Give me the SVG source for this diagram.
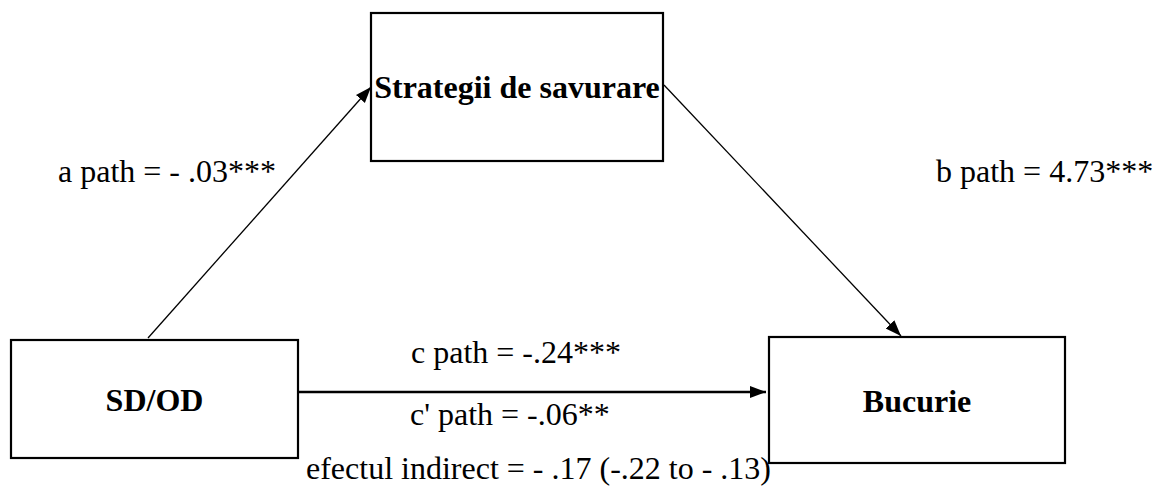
<svg xmlns="http://www.w3.org/2000/svg" width="1152" height="490" viewBox="0 0 1152 490">
<style>
.box{fill:#fff;stroke:#000;stroke-width:2.2}
.node{font-family:"Liberation Serif","Times New Roman",serif;font-size:32px;font-weight:bold;fill:#000;text-anchor:middle}
.lbl{font-family:"Liberation Serif","Times New Roman",serif;font-size:32px;fill:#000}
.con{fill:none;stroke:#000}
</style>
<defs>
<marker id="arr" markerUnits="userSpaceOnUse" markerWidth="18" markerHeight="14" refX="16" refY="6" orient="auto">
<path d="M0,0 L16,6 L0,12 Z" fill="#000"/>
</marker>
</defs>
<rect width="1152" height="490" fill="#fff"/>
<g id="connectors">
<line class="con" x1="148" y1="338" x2="371" y2="87" stroke-width="1.3" marker-end="url(#arr)"/>
<line class="con" x1="664" y1="85" x2="901" y2="336" stroke-width="1.3" marker-end="url(#arr)"/>
<line class="con" x1="299" y1="392" x2="766" y2="392" stroke-width="2.4" marker-end="url(#arr)"/>
</g>
<g id="node-strategii">
<rect class="box" x="371" y="13" width="292" height="148"/>
<text class="node" x="517" y="98">Strategii de savurare</text>
</g>
<g id="node-sdod">
<rect class="box" x="11" y="340" width="287" height="118"/>
<text class="node" x="154.5" y="411">SD/OD</text>
</g>
<g id="node-bucurie">
<rect class="box" x="769" y="337" width="296" height="126"/>
<text class="node" x="917" y="412">Bucurie</text>
</g>
<g id="labels">
<text class="lbl" x="58" y="182">a path = - .03***</text>
<text class="lbl" x="936" y="182">b path = 4.73***</text>
<text class="lbl" x="411" y="363">c path = -.24***</text>
<text class="lbl" x="410" y="425">c' path = -.06**</text>
<text class="lbl" x="306" y="479">efectul indirect = - .17 (-.22 to - .13)</text>
</g>
</svg>
